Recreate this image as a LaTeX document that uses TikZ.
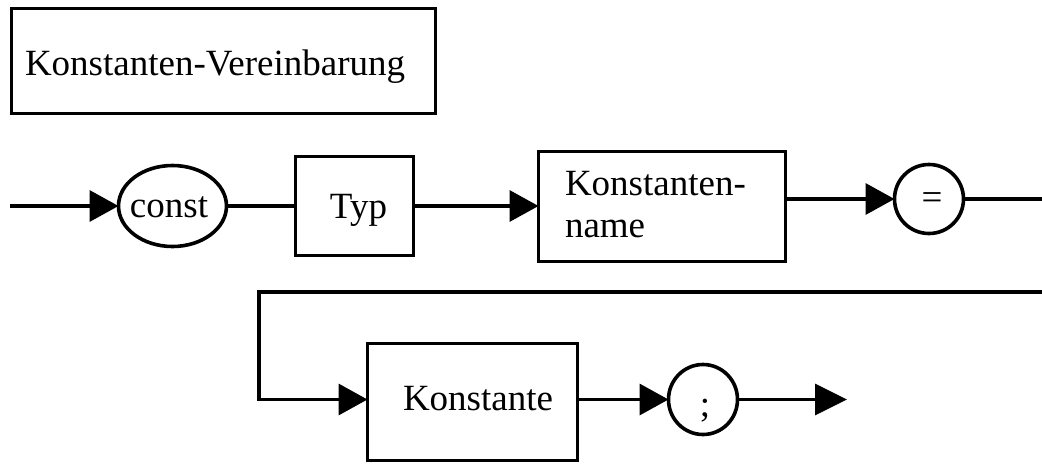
\documentclass[tikz,border=0pt]{standalone}
\usepackage{fontspec}
\setmainfont{Liberation Serif}
\usetikzlibrary{arrows.meta,shapes.geometric}
\begin{document}
\begin{tikzpicture}[x=1pt,y=-1pt,
  line width=3.6pt,
  every node/.style={font=\fontsize{37}{44}\selectfont},
  boxshape/.style={draw,rectangle,inner sep=0pt,outer sep=0pt},
  ovalshape/.style={draw,ellipse,inner sep=0pt,outer sep=0pt},
  txt/.style={inner sep=0pt,outer sep=0pt},
  flow/.style={-{Triangle[length=29pt,width=31pt]}},
  flowlong/.style={-{Triangle[length=32pt,width=31pt]}}
]
\useasboundingbox (0,0) rectangle (1042,464);

% title
\node[boxshape,minimum width=424pt,minimum height=105pt] (title) at (223.5,61) {};
\node[txt,anchor=base west] (titletxt) at (25,75) {Konstanten-Vereinbarung};

% row 1
\coordinate (s) at (10,206);
\node[ovalshape,minimum width=108pt,minimum height=81pt] (const) at (172.5,206) {};
\node[txt,anchor=base] (consttxt) at (169,217) {const};
\node[boxshape,minimum width=118pt,minimum height=99pt] (typ) at (354.5,206) {};
\node[txt,anchor=base] (typtxt) at (358.5,218) {Typ};
\node[boxshape,minimum width=247pt,minimum height=110pt] (kn) at (662,206.5) {};
\node[txt,anchor=base west] (kntxta) at (565,195.5) {Konstanten-};
\node[txt,anchor=base west] (kntxtb) at (565,237.5) {name};
\node[ovalshape,minimum width=69pt,minimum height=69pt] (eq) at (929,199) {};
\node[txt] (eqtxt) at (932,201.5) {=};
\coordinate (r1) at (1042,199);

\draw[flow] (s) -- (const.west);
\draw (const.east) -- (typ.west);
\draw[flow] (typ.east) -- (kn.west |- typ.east);
\draw[flow] (kn.east |- eq.west) -- (eq.west);
\draw (eq.east) -- (r1);

% row 2
\coordinate (r2) at (1042,292);
\coordinate (c1) at (259,292);
\node[boxshape,minimum width=210pt,minimum height=117pt] (kon) at (472.5,402) {};
\node[txt,anchor=base west] (kontxt) at (403,410) {Konstante};
\node[ovalshape,minimum width=69pt,minimum height=70pt] (semi) at (703,399.5) {};
\node[txt,anchor=base] (semitxt) at (705,416) {;};
\coordinate (fin) at (847,399.5);

\draw[flow] (r2) -- (c1) |- (kon.west |- semi.west);
\draw[flow] (kon.east |- semi.west) -- (semi.west);
\draw[flowlong] (semi.east) -- (fin);
\end{tikzpicture}
\end{document}
